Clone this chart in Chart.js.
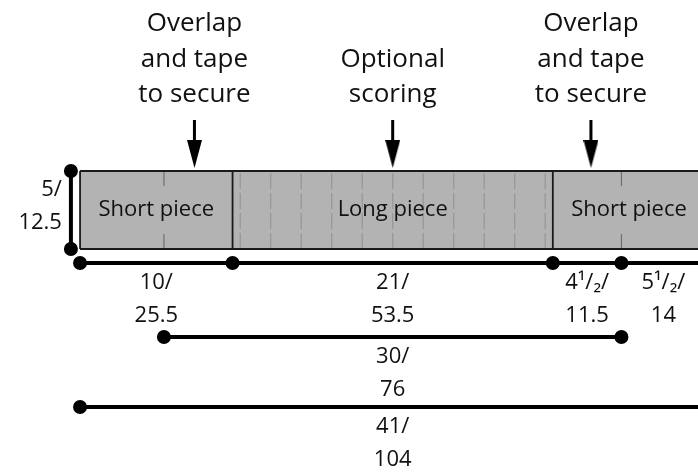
<!DOCTYPE html>
<html>
<head>
<meta charset="utf-8">
<script src="https://cdn.jsdelivr.net/npm/chart.js@4.4.1/dist/chart.umd.min.js"></script>
<style>
  html, body { margin: 0; padding: 0; background: #fff; }
  #wrap { width: 698px; height: 474px; position: relative; }
</style>
</head>
<body>
<div id="wrap"><canvas id="strip"></canvas></div>
<script>
// everything in inches, cm only shows up in the labels
const pieceNames = ['Short piece', 'Long piece', 'Short piece'];
const pieceStart = [0, 10, 31];
const pieceEnd = [10, 31, 41];
const stripHeight = 5;
const heightLabel = ['5/', '12.5'];

const scoreLines = [10.5, 12.5, 14.5, 16.5, 18.5, 20.5, 22.5, 24.5, 26.5, 28.5, 30.5];
const overlapMarks = [5.5, 35.5];

const arrowAt = [7.5, 20.5, 33.5];
const arrowText = [
  ['Overlap', 'and tape', 'to secure'],
  ['Optional', 'scoring'],
  ['Overlap', 'and tape', 'to secure']
];

// dimension rows under the strip
const row1Stops = [0, 10, 31, 35.5, 41];
const row1Labels = [['10/', '25.5'], ['21/', '53.5'], ['4¹/₂/', '11.5'], ['5¹/₂/', '14']];
const row2Stops = [5.5, 35.5];
const row2Labels = [['30/', '76']];
const row3Stops = [0, 41];
const row3Labels = [['41/', '104']];

// layout (view window + where the rows sit)
const view = { xMin: -5.25, xMax: 40.52, yMin: -14.42, yMax: 15.96 };
const rowY = [-0.9, -5.64, -10.13];
const heightDimX = -0.6;
const arrowTop = 8.27, shaftEnd = 6.35, headY = 6.09;

// helper: list of [x1,y1,x2,y2] -> points with gaps between
function segs(list) {
  const out = [];
  list.forEach(s => {
    out.push({ x: s[0], y: s[1] }, { x: s[2], y: s[3] }, { x: s[2], y: null });
  });
  return out;
}

function arrowHead() {
  const c = document.createElement('canvas');
  c.width = 15; c.height = 28;
  const g = c.getContext('2d');
  g.fillStyle = '#000';
  g.beginPath();
  g.moveTo(0, 0); g.lineTo(15, 0); g.lineTo(7.5, 28);
  g.closePath();
  g.fill();
  return c;
}

const stripTop = [{ x: pieceStart[0], y: stripHeight }, { x: pieceEnd[pieceEnd.length - 1], y: stripHeight }];
const outline = segs(
  [[pieceStart[0], 0, pieceEnd[2], 0], [pieceStart[0], stripHeight, pieceEnd[2], stripHeight]]
    .concat(pieceStart.map(s => [s, 0, s, stripHeight]))
    .concat([[pieceEnd[2], 0, pieceEnd[2], stripHeight]])
);

function dimLine(stops, y) {
  return stops.map(s => ({ x: s, y: y }));
}

const datasets = [
  {
    label: 'fill', data: stripTop, showLine: true, fill: { value: 0 },
    backgroundColor: '#b3b3b3', borderWidth: 0, pointRadius: 0, order: 10
  },
  {
    label: 'scoring', data: segs(scoreLines.map(s => [s, 0, s, stripHeight])), showLine: true,
    borderColor: '#969696', borderWidth: 1.2, borderDash: [16, 4], pointRadius: 0, spanGaps: false, order: 9
  },
  {
    label: 'overlap', data: segs(overlapMarks.map(s => [s, stripHeight, s, 0])), showLine: true,
    borderColor: '#6f6f6f', borderWidth: 1.2, borderDash: [15, 48], pointRadius: 0, spanGaps: false, order: 8
  },
  {
    label: 'outline', data: outline, showLine: true,
    borderColor: '#1a1a1a', borderWidth: 1.8, pointRadius: 0, spanGaps: false, order: 7
  },
  {
    label: 'height', data: [{ x: heightDimX, y: 0 }, { x: heightDimX, y: stripHeight }], showLine: true,
    borderColor: '#000', backgroundColor: '#000', borderWidth: 4, pointRadius: 5, order: 5
  },
  {
    label: 'row1', data: dimLine(row1Stops, rowY[0]), showLine: true,
    borderColor: '#000', backgroundColor: '#000', borderWidth: 4, pointRadius: 5, order: 5
  },
  {
    label: 'row2', data: dimLine(row2Stops, rowY[1]), showLine: true,
    borderColor: '#000', backgroundColor: '#000', borderWidth: 4, pointRadius: 5, order: 5
  },
  {
    label: 'row3', data: dimLine(row3Stops, rowY[2]), showLine: true,
    borderColor: '#000', backgroundColor: '#000', borderWidth: 4, pointRadius: 5, order: 5
  },
  {
    label: 'shafts', data: segs(arrowAt.map(a => [a, arrowTop, a, shaftEnd])), showLine: true,
    borderColor: '#000', borderWidth: 3, pointRadius: 0, spanGaps: false, order: 4
  },
  {
    label: 'heads', data: arrowAt.map(a => ({ x: a, y: headY })), showLine: false,
    pointStyle: arrowHead(), pointRadius: 10, order: 3
  }
];

const labelPlugin = {
  id: 'labels',
  afterDatasetsDraw(chart) {
    const { ctx } = chart;
    const x = chart.scales.x, y = chart.scales.y;
    ctx.save();
    ctx.fillStyle = '#111';
    ctx.textAlign = 'center';
    ctx.textBaseline = 'middle';

    ctx.font = '22px "Open Sans"';
    pieceNames.forEach((n, i) => {
      ctx.fillText(n, x.getPixelForValue((pieceStart[i] + pieceEnd[i]) / 2), y.getPixelForValue(stripHeight / 2));
    });

    ctx.font = '26px "Open Sans"';
    const top = y.getPixelForValue(arrowTop);
    arrowAt.forEach((a, i) => {
      const lines = arrowText[i];
      lines.forEach((t, j) => {
        ctx.fillText(t, x.getPixelForValue(a), top - 25 - (lines.length - 1 - j) * 35.5);
      });
    });

    ctx.font = '22px "Open Sans"';
    [[row1Stops, row1Labels], [row2Stops, row2Labels], [row3Stops, row3Labels]].forEach((row, r) => {
      const py = y.getPixelForValue(rowY[r]);
      row[1].forEach((pair, k) => {
        const cx = x.getPixelForValue((row[0][k] + row[0][k + 1]) / 2);
        ctx.fillText(pair[0], cx, py + 20);
        ctx.fillText(pair[1], cx, py + 53);
      });
    });

    ctx.textAlign = 'right';
    const hx = x.getPixelForValue(heightDimX) - 9;
    const hy = y.getPixelForValue(stripHeight / 2);
    ctx.fillText(heightLabel[0], hx, hy - 20);
    ctx.fillText(heightLabel[1], hx, hy + 13);
    ctx.restore();
  }
};

new Chart(document.getElementById('strip'), {
  type: 'scatter',
  data: { datasets: datasets },
  options: {
    responsive: true,
    maintainAspectRatio: false,
    animation: false,
    layout: { padding: 0, autoPadding: false },
    scales: {
      x: { type: 'linear', min: view.xMin, max: view.xMax, display: false },
      y: { type: 'linear', min: view.yMin, max: view.yMax, display: false }
    },
    plugins: { legend: { display: false }, tooltip: { enabled: false } }
  },
  plugins: [labelPlugin]
});
</script>
</body>
</html>
